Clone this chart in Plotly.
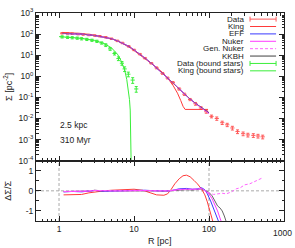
import plotly.graph_objects as go

# ---------------- data ----------------
r_data = [1.1, 1.3, 1.5, 1.8, 2.1, 2.5, 3.0, 3.5, 4.2, 5.0, 6.0, 7.0, 8.5, 10, 12, 14, 17, 20, 24, 28,
          33, 40, 47, 56, 66, 78, 92, 108, 127, 150, 175, 205, 240, 285, 330, 390, 450, 520]
logsig_data = [2.04, 2.03, 2.02, 2.00, 1.98, 1.96, 1.93, 1.90, 1.85, 1.78, 1.68, 1.58, 1.42, 1.25, 1.05,
               0.86, 0.62, 0.40, 0.14, -0.08, -0.30, -0.60, -0.85, -1.10, -1.30, -1.50, -1.68, -1.90,
               -2.00, -2.20, -2.30, -2.45, -2.62, -2.72, -2.78, -2.80, -2.83, -2.87]
err_frac_data = [0.08, 0.08, 0.08, 0.08, 0.08, 0.08, 0.08, 0.08, 0.08, 0.08, 0.08, 0.08, 0.08, 0.08, 0.08,
                 0.08, 0.08, 0.1, 0.1, 0.1, 0.12, 0.12, 0.12, 0.12, 0.15, 0.15, 0.15, 0.15, 0.18, 0.18,
                 0.18, 0.2, 0.2, 0.2, 0.2, 0.2, 0.2, 0.2]

r_model = [1.1, 1.5, 2.0, 3.0, 4.0, 5.0, 6.0, 7.0, 8.5, 10, 12, 14, 17, 20, 24, 28, 33, 40, 47, 56, 66, 78, 90, 100]
logsig_eff = [2.03, 2.02, 2.00, 1.93, 1.86, 1.78, 1.68, 1.58, 1.42, 1.25, 1.05, 0.86, 0.62, 0.40, 0.14,
              -0.08, -0.31, -0.60, -0.85, -1.08, -1.28, -1.47, -1.62, -1.74]
logsig_nuker = [2.03, 2.02, 2.00, 1.93, 1.86, 1.78, 1.68, 1.58, 1.42, 1.25, 1.05, 0.86, 0.62, 0.40, 0.14,
                -0.08, -0.31, -0.60, -0.85, -1.08, -1.29, -1.48, -1.64, -1.76]
logsig_gennuker = [2.03, 2.02, 2.00, 1.93, 1.86, 1.78, 1.68, 1.58, 1.42, 1.25, 1.05, 0.86, 0.62, 0.40, 0.14,
                   -0.08, -0.31, -0.60, -0.85, -1.08, -1.29, -1.48, -1.65, -1.77]
logsig_kkbh = [2.03, 2.02, 2.00, 1.93, 1.86, 1.78, 1.68, 1.58, 1.42, 1.25, 1.05, 0.86, 0.62, 0.40, 0.14,
               -0.08, -0.31, -0.60, -0.85, -1.08, -1.28, -1.47, -1.62, -1.73]

r_king = [1.1, 1.5, 2.0, 3.0, 4.0, 5.0, 6.0, 7.0, 8.5, 10, 12, 14, 17, 20, 24, 28, 33, 38, 42, 45, 48, 55, 70, 85, 97]
logsig_king = [2.08, 2.06, 2.03, 1.95, 1.87, 1.78, 1.68, 1.57, 1.40, 1.22, 1.02, 0.84, 0.62, 0.42, 0.18,
               -0.08, -0.42, -0.80, -1.15, -1.42, -1.57, -1.57, -1.57, -1.57, -1.57]

r_bound = [1.1, 1.3, 1.5, 1.75, 2.0, 2.35, 2.75, 3.2, 3.7, 4.2, 4.8, 5.5, 6.2, 6.9, 7.5, 8.4, 9.6, 10.7]
logsig_bound = [1.87, 1.85, 1.83, 1.81, 1.78, 1.75, 1.71, 1.66, 1.58, 1.48, 1.30, 1.08, 0.84, 0.62, 0.35,
                0.10, -0.18, -0.60]
err_frac_bound = [0.12, 0.12, 0.12, 0.12, 0.12, 0.12, 0.12, 0.12, 0.12, 0.15, 0.15, 0.15, 0.2, 0.2, 0.25,
                  0.25, 0.3, 0.3]

r_king_bound = [1.0, 1.5, 2.0, 3.0, 4.0, 5.0, 6.0, 6.5, 7.0, 7.5, 8.0, 8.4, 8.7, 8.9, 9.05, 9.15, 9.2]
logsig_king_bound = [1.88, 1.84, 1.80, 1.70, 1.55, 1.35, 1.05, 0.85, 0.60, 0.30, -0.15, -0.60, -1.10,
                     -1.60, -2.40, -3.50, -4.50]

# residuals (bottom panel)
r_res_king = [1.15, 1.5, 2, 2.5, 3, 4, 5, 7, 10, 13, 16, 20, 25, 28, 31, 35, 40, 45, 50, 56, 63, 70, 80, 88,
              95, 102, 108, 114]
res_king = [-0.2, -0.2, -0.18, -0.1, -0.05, 0.0, 0.03, 0.06, 0.08, 0.03, -0.08, -0.2, -0.22, -0.15, 0.05,
            0.35, 0.6, 0.75, 0.78, 0.7, 0.52, 0.35, 0.08, -0.2, -0.55, -0.95, -1.3, -1.6]
r_res_eff = [1.15, 1.5, 2, 2.5, 3, 4, 5, 7, 10, 14, 20, 25, 30, 35, 40, 50, 60, 70, 80, 88, 95, 105, 115, 125, 135]
res_eff = [-0.05, -0.03, -0.05, -0.03, 0.02, -0.02, 0.0, 0.0, 0.02, 0.03, 0.0, -0.02, 0.0, 0.05, 0.1, 0.12,
           0.08, 0.1, 0.15, 0.05, -0.15, -0.5, -0.85, -1.2, -1.55]
r_res_nuker = [1.15, 1.5, 2, 2.5, 3, 4, 5, 7, 10, 14, 20, 25, 30, 35, 40, 50, 60, 70, 80, 90, 100, 110, 120, 130, 140, 148]
res_nuker = [-0.04, -0.03, -0.04, -0.02, 0.02, -0.01, 0.0, 0.0, 0.02, 0.02, 0.0, -0.01, 0.0, 0.04, 0.07,
             0.08, 0.06, 0.08, 0.12, 0.0, -0.15, -0.4, -0.7, -1.0, -1.35, -1.6]
r_res_gennuker = [1.15, 1.5, 2, 3, 5, 7, 10, 14, 20, 30, 40, 50, 60, 70, 80, 90, 100, 115, 130, 150, 170, 200,
                  230, 260, 300, 350, 400, 450, 500]
res_gennuker = [-0.03, -0.02, -0.03, 0.02, 0.0, 0.0, 0.02, 0.02, 0.0, 0.0, 0.05, 0.06, 0.05, 0.06, 0.1, 0.0,
                -0.1, -0.18, -0.15, -0.12, -0.15, -0.05, 0.1, 0.15, 0.3, 0.35, 0.45, 0.55, 0.62]
r_res_kkbh = [1.15, 1.5, 2, 2.5, 3, 4, 5, 7, 10, 14, 20, 25, 30, 35, 40, 50, 60, 70, 80, 90, 100, 110, 120,
              130, 140, 150, 160, 172]
res_kkbh = [-0.04, -0.03, -0.04, -0.02, 0.03, -0.01, 0.0, 0.0, 0.02, 0.02, 0.0, -0.02, 0.0, 0.03, 0.06, 0.06,
            0.04, 0.06, 0.1, 0.0, -0.08, -0.25, -0.5, -0.75, -0.85, -1.0, -1.25, -1.6]

x_tickvals = [1, 10, 100, 1000]
x_ticktext = ["1", "10", "100", ""]
last_x_label = "1000"
y_tickexp = [-4, -3, -2, -1, 0, 1, 2, 3]
res_tickvals = [-1, 0, 1]
res_ticktext = ["-1", "0", "1"]

legend_names = ["Data", "King", "EFF", "Nuker", "Gen. Nuker", "KKBH", "Data (bound stars)", "King (bound stars)"]

# ---------------- styles ----------------
C_DATA = "#ff5a5a"
C_KING = "#ff3a3a"
C_EFF = "#3a3aff"
C_NUKER = "#ff3aff"
C_GEN = "#ff66ff"
C_KKBH = "#404040"
C_GREEN = "#3aee3a"
FONT = "Liberation Sans"

def p10(v):
    return [10 ** a for a in v]

fig = go.Figure()

sig_data = p10(logsig_data)
fig.add_trace(go.Scatter(x=r_data, y=sig_data, mode="markers", xaxis="x", yaxis="y",
                         marker=dict(color=C_DATA, size=3, symbol="line-ew", line=dict(color=C_DATA, width=1)),
                         error_y=dict(type="data", array=[s * e for s, e in zip(sig_data, err_frac_data)],
                                      color=C_DATA, thickness=1, width=1.5),
                         showlegend=False))
fig.add_trace(go.Scatter(x=r_king, y=p10(logsig_king), mode="lines", xaxis="x", yaxis="y",
                         line=dict(color=C_KING, width=1), showlegend=False))
fig.add_trace(go.Scatter(x=r_model, y=p10(logsig_eff), mode="lines", xaxis="x", yaxis="y",
                         line=dict(color=C_EFF, width=1), showlegend=False))
fig.add_trace(go.Scatter(x=r_model, y=p10(logsig_nuker), mode="lines", xaxis="x", yaxis="y",
                         line=dict(color=C_NUKER, width=1), showlegend=False))
fig.add_trace(go.Scatter(x=r_model, y=p10(logsig_gennuker), mode="lines", xaxis="x", yaxis="y",
                         line=dict(color=C_GEN, width=1, dash="3px,2px"), showlegend=False))
fig.add_trace(go.Scatter(x=r_model, y=p10(logsig_kkbh), mode="lines", xaxis="x", yaxis="y",
                         line=dict(color=C_KKBH, width=1), opacity=0.5, showlegend=False))
sig_bound = p10(logsig_bound)
fig.add_trace(go.Scatter(x=r_bound, y=sig_bound, mode="markers", xaxis="x", yaxis="y",
                         marker=dict(color=C_GREEN, size=3, symbol="line-ew", line=dict(color=C_GREEN, width=1)),
                         error_y=dict(type="data", array=[s * e for s, e in zip(sig_bound, err_frac_bound)],
                                      color=C_GREEN, thickness=1, width=1.5),
                         showlegend=False))
fig.add_trace(go.Scatter(x=r_king_bound, y=p10(logsig_king_bound), mode="lines", xaxis="x", yaxis="y",
                         line=dict(color=C_GREEN, width=1), showlegend=False))

# residuals
for rr, vv, col, dash, op in [(r_res_king, res_king, C_KING, "solid", 1),
                              (r_res_kkbh, res_kkbh, C_KKBH, "solid", 0.8),
                              (r_res_eff, res_eff, C_EFF, "solid", 1),
                              (r_res_nuker, res_nuker, C_NUKER, "solid", 1),
                              (r_res_gennuker, res_gennuker, C_GEN, "3px,2px", 1)]:
    fig.add_trace(go.Scatter(x=rr, y=vv, mode="lines", xaxis="x2", yaxis="y2",
                             line=dict(color=col, width=1, dash=dash), opacity=op, showlegend=False))

minor_x = [m * 10 ** d for d in range(0, 3) for m in range(2, 10)] + [0.5, 0.6, 0.7, 0.8, 0.9]
minor_y = [m * 10 ** d for d in range(-4, 3) for m in range(2, 10)]

axis_common = dict(showline=True, linecolor="#222", linewidth=1, mirror="allticks", ticks="inside",
                   ticklen=5, tickwidth=1, tickcolor="#222", showgrid=False, zeroline=False,
                   tickfont=dict(family=FONT, size=8.5, color="#222"))

fig.update_layout(
    width=295, height=248,
    margin=dict(l=36, r=11, t=7, b=27),
    paper_bgcolor="white", plot_bgcolor="white",
    font=dict(family=FONT, size=9, color="#222"),
    xaxis=dict(type="log", range=[-0.307, 3], domain=[0, 1], anchor="y", matches="x2",
               showticklabels=False, tickvals=x_tickvals,
               minor=dict(ticks="inside", ticklen=2.5, tickvals=minor_x, tickcolor="#222"), **axis_common),
    yaxis=dict(type="log", range=[-4, 3], domain=[0.29, 1], anchor="x",
               tickvals=[10 ** e for e in y_tickexp],
               ticktext=["10<sup>%d</sup>" % e for e in y_tickexp],
               minor=dict(ticks="inside", ticklen=2.5, tickvals=minor_y, tickcolor="#222"),
               title=dict(text="Σ [pc<sup>-2</sup>]", standoff=4, font=dict(size=9)), **axis_common),
    xaxis2=dict(type="log", range=[-0.307, 3], domain=[0, 1], anchor="y2",
                tickvals=x_tickvals, ticktext=x_ticktext,
                minor=dict(ticks="inside", ticklen=2.5, tickvals=minor_x, tickcolor="#222"),
                **axis_common),
    yaxis2=dict(range=[-1.5, 1.5], domain=[0, 0.29], anchor="x2",
                tickvals=res_tickvals, ticktext=res_ticktext,
                minor=dict(ticks="inside", ticklen=2.5, tickvals=[-0.5, 0.5], tickcolor="#222"),
                title=dict(text="ΔΣ/Σ", standoff=12, font=dict(size=9)), **axis_common),
)

# last x tick label placed right-aligned so it stays inside the picture
fig.add_annotation(text=last_x_label, xref="paper", yref="paper", x=1.042, y=-0.022, xanchor="right",
                   yanchor="top", showarrow=False, font=dict(size=8.5, family=FONT, color="#222"))
# x-axis title
fig.add_annotation(text="R [pc]", xref="paper", yref="paper", x=0.5, y=-0.068, xanchor="center",
                   yanchor="top", showarrow=False, borderpad=0, font=dict(size=9, family=FONT, color="#222"))

# reference lines in residual panel
for xv in [1, 100]:
    fig.add_shape(type="line", xref="x2", yref="y2 domain", x0=xv, x1=xv, y0=0, y1=1,
                  line=dict(color="#aaaaaa", width=1, dash="3px,2px"), layer="below")
fig.add_shape(type="line", xref="x2 domain", yref="y2", x0=0, x1=1, y0=0, y1=0,
              line=dict(color="#aaaaaa", width=1, dash="3px,2px"), layer="below")

# text labels
fig.add_annotation(text="2.5 kpc", xref="paper", yref="paper", x=0.089, y=0.463, xanchor="left",
                   showarrow=False, font=dict(size=8.5, family=FONT))
fig.add_annotation(text="310 Myr", xref="paper", yref="paper", x=0.089, y=0.388, xanchor="left",
                   showarrow=False, font=dict(size=8.5, family=FONT))

# legend (gnuplot style: text right, sample left)
leg_styles = [(C_DATA, "solid", True), (C_KING, "solid", False), (C_EFF, "solid", False),
              (C_NUKER, "solid", False), (C_GEN, "3px,2px", False), (C_KKBH, "solid", False),
              (C_GREEN, "solid", True), (C_GREEN, "solid", False)]
for i, (name, (col, dash, caps)) in enumerate(zip(legend_names, leg_styles)):
    py = 13.3 + i * 7.6
    yp = (221 - py) / 214
    fig.add_annotation(text=name, xref="paper", yref="paper", x=0.843, y=yp, xanchor="right",
                       yanchor="middle", showarrow=False, borderpad=0,
                       font=dict(size=8, family=FONT, color="#222"))
    fig.add_shape(type="line", xref="paper", yref="paper", x0=0.863, x1=0.968, y0=yp, y1=yp,
                  line=dict(color=col, width=1, dash=dash))
    if caps:
        for xx in [0.863, 0.968]:
            fig.add_shape(type="line", xref="paper", yref="paper", x0=xx, x1=xx, y0=yp - 0.012, y1=yp + 0.012,
                          line=dict(color=col, width=1))

fig.write_html("out.html", config={"displayModeBar": False},
               post_script="document.body.style.margin='0';document.body.style.overflow='hidden';")
